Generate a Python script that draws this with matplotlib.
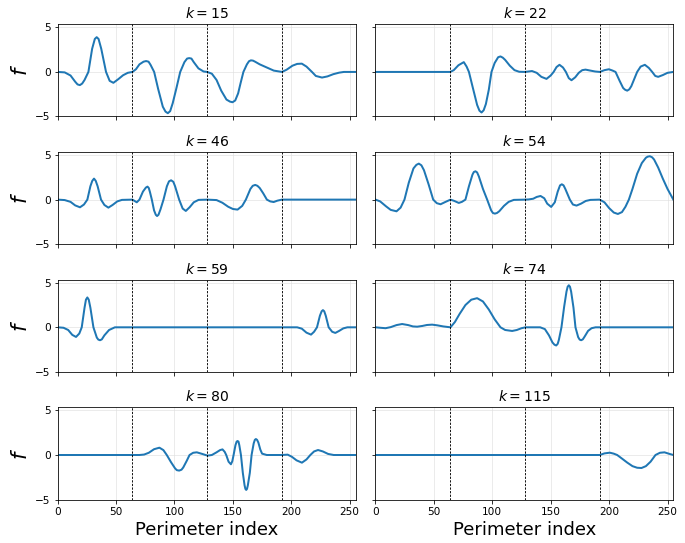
import matplotlib
matplotlib.use("Agg")
import matplotlib.pyplot as plt

# key points (perimeter index, f)
X_K15 = [0, 6, 11, 15, 17, 19, 21, 23, 26.3, 29.5, 31.8, 33.4, 35, 37.3, 41.4, 44.5, 47.7, 52, 56, 60,
         64, 67, 70, 73.5, 75.7, 77.8, 79.5, 82.6, 86, 90, 92.3, 94.3, 96.3, 98.5, 101.5, 104.9, 108.5,
         110.8, 112.6, 114.5, 116.5, 120.5, 124.9, 128, 132, 136, 140, 144.5, 147.5, 149.7, 152, 154.5,
         156.5, 159, 162, 163.8, 165.4, 167.2, 169, 173, 179, 185, 192, 196, 201, 205, 209, 213, 217.7,
         221, 226.3, 231, 236, 241, 245, 255]
Y_K15 = [0, -0.05, -0.4, -1.1, -1.4, -1.48, -1.3, -0.9, 0, 2.6, 3.7, 3.9, 3.7, 2.6, 0, -1.0, -1.22,
         -0.8, -0.37, -0.1, 0, 0.3, 0.85, 1.15, 1.22, 1.15, 0.8, 0, -1.9, -3.9, -4.45, -4.63, -4.4, -3.5,
         -1.9, 0, 1.1, 1.5, 1.55, 1.5, 1.1, 0.4, 0.05, 0, -0.2, -0.9, -2.1, -3.1, -3.33, -3.4, -3.2,
         -2.4, -1.3, 0, 0.85, 1.2, 1.3, 1.27, 1.15, 0.85, 0.5, 0.15, 0, 0.25, 0.7, 0.9, 0.93, 0.6, 0,
         -0.45, -0.63, -0.5, -0.25, -0.08, 0, 0]

X_K22 = [0, 64, 67, 71, 75.6, 78, 80, 83, 87, 89, 90.8, 92.6, 94.5, 97, 99.3, 102, 105, 107, 109, 111,
         115, 119, 123, 128, 131, 134, 138, 142, 146.4, 150, 152.5, 155, 157.5, 160.5, 163, 165.5, 167.8,
         171, 174, 177, 179.8, 184, 188, 192, 196, 199.8, 203, 205.5, 209, 212, 213.7, 215.5, 217.3,
         219, 221.5, 224, 227, 230.6, 234, 236.9, 239.5, 242, 246, 250, 255]
Y_K22 = [0, 0, 0.2, 0.75, 1.1, 0.6, 0, -1.6, -3.7, -4.35, -4.55, -4.3, -3.6, -2.0, 0, 1.0, 1.65, 1.74,
         1.6, 1.35, 0.7, 0.2, 0.02, 0, 0.05, 0.1, -0.1, -0.55, -0.78, -0.4, 0, 0.55, 0.8, 0.5, 0, -0.7,
         -0.93, -0.6, -0.1, 0.2, 0.26, 0.15, 0.05, 0, 0.2, 0.3, 0.15, 0, -1.0, -1.8, -2.0, -2.1, -1.95,
         -1.6, -0.8, 0, 0.6, 0.8, 0.45, 0, -0.45, -0.55, -0.35, -0.1, 0]

X_K46 = [0, 6, 11, 15, 19.1, 22.5, 25.4, 28, 29.6, 31.1, 32.6, 34.2, 37.1, 40, 43.4, 47, 51, 55, 64,
         67.7, 70, 73, 75.5, 76.9, 78, 79, 80.6, 82.5, 84, 85.1, 86.3, 88, 90.6, 93.5, 95.3, 97.1, 99,
         100.5, 104, 107, 109.7, 113, 116.5, 120.6, 128, 136, 141, 146, 150, 154, 158, 161.1, 165, 167,
         169.1, 171, 173, 176, 179.1, 182, 184.9, 188, 192, 255]
Y_K46 = [0, -0.05, -0.25, -0.65, -0.86, -0.55, 0, 1.5, 2.1, 2.36, 2.1, 1.5, 0, -0.6, -0.9, -0.6, -0.2,
         -0.03, 0, -0.3, 0, 0.9, 1.35, 1.46, 1.3, 0.85, 0, -1.2, -1.7, -1.84, -1.7, -1.1, 0, 1.5, 2.05,
         2.17, 2.0, 1.5, 0, -1.0, -1.27, -0.85, -0.3, -0.03, 0, -0.05, -0.35, -0.8, -1.05, -1.12, -0.7,
         0, 1.2, 1.55, 1.65, 1.55, 1.3, 0.7, 0, -0.2, -0.27, -0.12, 0, 0]

X_K54 = [0, 4, 9, 13, 18, 21.5, 24.8, 28.5, 32.5, 35, 37.1, 39.3, 41.5, 45.5, 49.4, 52.5, 55.7, 60,
         64.2, 67.5, 71.3, 74, 77, 80, 83, 84.2, 85.6, 87, 88.5, 92, 95.6, 99, 100.5, 102.2, 104, 106,
         110, 114, 118.4, 128, 131, 135, 138, 141.3, 144.5, 147, 150.4, 153.5, 156, 158, 159.5, 161,
         162.5, 166.4, 169, 172.1, 176, 180, 184, 192, 196, 200, 204, 207.5, 211, 214, 216.9, 220, 224,
         228, 231.5, 233, 234.9, 236.8, 238.5, 242, 246, 250, 255]
Y_K54 = [0, -0.2, -0.75, -1.15, -1.31, -0.9, 0, 1.9, 3.5, 3.9, 4.04, 3.85, 3.3, 1.7, 0, -0.4, -0.52,
         -0.25, 0, -0.15, -0.37, -0.25, 0, 1.5, 2.8, 3.1, 3.18, 3.05, 2.6, 1.2, 0, -1.2, -1.5, -1.57,
         -1.5, -1.3, -0.7, -0.25, -0.03, 0, 0.02, 0.1, 0.3, 0.41, 0.15, -0.45, -0.82, -0.3, 0.9, 1.6,
         1.72, 1.6, 1.2, 0, -0.55, -0.67, -0.45, -0.15, -0.03, 0, -0.3, -0.95, -1.45, -1.61, -1.4, -0.8,
         0, 1.2, 2.9, 4.1, 4.7, 4.82, 4.87, 4.75, 4.5, 3.6, 2.35, 1.2, 0]

X_K59 = [0, 5, 9, 12.5, 15.7, 18.5, 20.6, 23, 24.2, 25.4, 26.6, 28, 30.6, 33.5, 34.8, 36.3, 37.8, 40,
         44, 49, 205, 209, 213, 216.9, 219.5, 222, 224.5, 226, 227.1, 228.2, 229.5, 232, 235, 237.7,
         241, 244.5, 248, 255]
Y_K59 = [0, -0.05, -0.3, -0.85, -1.08, -0.7, 0, 2.2, 3.1, 3.35, 3.1, 2.2, 0, -1.15, -1.38, -1.45,
         -1.35, -0.9, -0.3, 0, 0, -0.15, -0.6, -0.82, -0.5, 0, 1.3, 1.8, 1.93, 1.8, 1.3, 0, -0.5, -0.63,
         -0.4, -0.12, 0, 0]

X_K74 = [0, 4, 8.6, 13, 18, 22.8, 28, 32, 35.7, 40, 44, 48.5, 53, 58, 64.2, 68, 72, 77, 82, 87, 92, 97,
         102, 107, 111, 117, 121, 125, 128.4, 141, 145, 148.5, 151.5, 153.2, 154.7, 156, 157, 159.2,
         161.5, 163.5, 164.5, 165.5, 166.5, 167.5, 169.5, 171.2, 173.5, 174.8, 176.1, 177.5, 179, 182,
         185, 188.4, 255]
Y_K74 = [0, -0.05, -0.1, 0.02, 0.25, 0.37, 0.25, 0.1, 0.07, 0.15, 0.26, 0.3, 0.22, 0.1, 0, 0.6, 1.5,
         2.5, 3.1, 3.27, 2.9, 2.0, 0.9, 0, -0.3, -0.41, -0.3, -0.1, 0, 0, -0.2, -0.9, -1.7, -1.95, -2.04,
         -1.85, -1.4, 0, 2.3, 4.0, 4.55, 4.72, 4.55, 4.0, 2.2, 0, -1.1, -1.38, -1.45, -1.35, -1.05, -0.4,
         -0.1, 0, 0]

X_K80 = [0, 70, 74, 78, 82.5, 87.1, 90.5, 93.4, 97, 100.5, 102, 104, 106, 107.5, 110.5, 112.9, 116,
         119.1, 123, 128.3, 132, 136, 139, 141.1, 143, 144.3, 146.3, 148.3, 149.5, 150.6, 152.2, 153.2,
         154, 154.8, 155.5, 156.9, 158.5, 160, 160.7, 161.4, 162.1, 162.8, 164.5, 166, 167.8, 168.8,
         169.7, 170.7, 171.8, 173.5, 175, 179, 192, 196.9, 200.5, 204.5, 209.1, 213, 216.3, 219.5,
         222.9, 227, 231.5, 236.3, 255]
Y_K80 = [0, 0, 0.05, 0.25, 0.65, 0.82, 0.55, 0, -0.8, -1.5, -1.7, -1.75, -1.65, -1.4, -0.65, 0, 0.25,
         0.3, 0.15, -0.07, 0, 0.3, 0.55, 0.63, 0.35, 0, -0.75, -1.04, -0.7, 0, 1.1, 1.5, 1.57, 1.5, 1.1,
         0, -2.0, -3.4, -3.8, -3.92, -3.8, -3.4, -2.0, 0, 1.3, 1.7, 1.79, 1.7, 1.4, 0.6, 0.15, 0, 0,
         0.04, -0.2, -0.6, -0.86, -0.5, 0, 0.4, 0.56, 0.4, 0.12, 0, 0]

X_K115 = [0, 192, 196, 200.6, 204, 206.9, 211, 215.5, 220, 224, 227.7, 231.5, 235.5, 239.7, 243.5,
          247.4, 251, 255]
Y_K115 = [0, 0, 0.18, 0.26, 0.15, 0, -0.4, -0.85, -1.25, -1.43, -1.46, -1.25, -0.75, 0, 0.25, 0.3,
          0.15, 0]

K_VALUES = [15, 22, 46, 54, 59, 74, 80, 115]
SERIES = [(X_K15, Y_K15), (X_K22, Y_K22), (X_K46, Y_K46), (X_K54, Y_K54),
          (X_K59, Y_K59), (X_K74, Y_K74), (X_K80, Y_K80), (X_K115, Y_K115)]
SPLITS = [64, 128, 192]

fig, axes = plt.subplots(4, 2, figsize=(685 / 72, 543 / 72), dpi=72, sharex=True, sharey=True)
fig.subplots_adjust(left=0.0842, right=0.983, top=0.955, bottom=0.080, wspace=0.067, hspace=0.387)

for ax, k, (xs, ys) in zip(axes.flat, K_VALUES, SERIES):
    ax.plot(xs, ys, color="#1f77b4", lw=2, solid_joinstyle="round")
    for s in SPLITS:
        ax.axvline(s, color="black", ls="--", lw=0.9, dashes=(2.5, 1.5))
    ax.grid(True, color="#dddddd", lw=0.8, alpha=0.7)
    ax.set_title(f"$k = {k}$", fontsize=14)
    ax.tick_params(labelsize=10.5)

axes[0, 0].set_xlim(0, 255)
axes[0, 0].set_ylim(-5, 5.33)
axes[0, 0].set_yticks([-5, 0, 5])
axes[0, 0].set_xticks([0, 50, 100, 150, 200, 250])

for ax in axes[:, 0]:
    ax.set_ylabel("$f$", fontsize=21)
for ax in axes[-1, :]:
    ax.set_xlabel("Perimeter index", fontsize=18)

fig.savefig("out.png", dpi=72)
